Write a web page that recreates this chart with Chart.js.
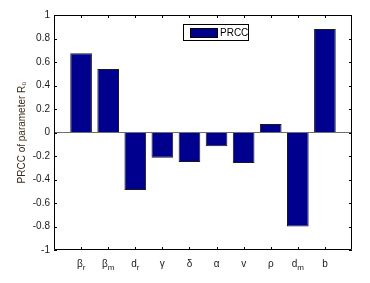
<!DOCTYPE html>
<html>
<head>
<meta charset="utf-8">
<script src="https://cdn.jsdelivr.net/npm/chart.js@4/dist/chart.umd.min.js"></script>
<style>
  html, body { margin: 0; padding: 0; background: #fff; }
  #wrap { width: 370px; height: 283px; }
</style>
</head>
<body>
<div id="wrap"><canvas id="prcc"></canvas></div>
<script>
// parameter names, split into base symbol + subscript
const paramBase = ['β', 'β', 'd', 'γ', 'δ', 'α', 'v', 'ρ', 'd', 'b'];
const paramSub  = ['r', 'm', 'r', '',  '',  '',  '',  '',  'm', ''];
const prccValues = [0.674, 0.54, -0.49, -0.214, -0.251, -0.118, -0.26, 0.072, -0.80, 0.88];
const yTicks = [-1, -0.8, -0.6, -0.4, -0.2, 0, 0.2, 0.4, 0.6, 0.8, 1];

const FONT = 'Liberation Sans, Arial, sans-serif';

// matlab style frame: box on four sides, ticks pointing in, custom legend
const matlabFrame = {
    id: 'matlabFrame',
    afterDatasetsDraw(chart) {
        const ctx = chart.ctx;
        const area = chart.chartArea;
        const xs = chart.scales.x;
        const ys = chart.scales.y;
        const tl = 3;
        ctx.save();
        ctx.strokeStyle = '#000';
        ctx.lineWidth = 1;
        ctx.beginPath();
        ctx.rect(area.left + 0.5, area.top + 0.5, area.right - area.left - 1, area.bottom - area.top - 1);
        ctx.stroke();

        ctx.beginPath();
        yTicks.forEach(v => {
            const y = Math.round(ys.getPixelForValue(v)) + 0.5;
            ctx.moveTo(area.left, y); ctx.lineTo(area.left + tl, y);
            ctx.moveTo(area.right, y); ctx.lineTo(area.right - tl, y);
        });
        paramBase.forEach((_, i) => {
            const x = Math.round(xs.getPixelForValue(i + 1)) + 0.5;
            ctx.moveTo(x, area.bottom); ctx.lineTo(x, area.bottom - tl);
            ctx.moveTo(x, area.top); ctx.lineTo(x, area.top + tl);
        });
        ctx.stroke();

        // x tick labels with subscripts
        ctx.fillStyle = '#1a1a1a';
        ctx.textBaseline = 'alphabetic';
        paramBase.forEach((b, i) => {
            const x = xs.getPixelForValue(i + 1);
            ctx.font = '10px ' + FONT;
            const wb = ctx.measureText(b).width;
            ctx.font = '8px ' + FONT;
            const ws = paramSub[i] ? ctx.measureText(paramSub[i]).width : 0;
            const x0 = x - (wb + ws) / 2;
            ctx.font = '10px ' + FONT;
            ctx.textAlign = 'left';
            ctx.fillText(b, x0, area.bottom + 17);
            if (paramSub[i]) {
                ctx.font = '8px ' + FONT;
                ctx.fillText(paramSub[i], x0 + wb, area.bottom + 20);
            }
        });

        // legend box
        const label = chart.data.datasets[0].label;
        const lx = 183, ly = 24, lw = 65, lh = 16;
        ctx.fillStyle = '#fff';
        ctx.fillRect(lx, ly, lw, lh);
        ctx.strokeStyle = '#000';
        ctx.strokeRect(lx + 0.5, ly + 0.5, lw, lh);
        ctx.fillStyle = chart.data.datasets[0].backgroundColor;
        ctx.fillRect(190, 28, 27, 9);
        ctx.strokeRect(190.5, 28.5, 27, 9);
        ctx.fillStyle = '#000';
        ctx.font = '10px ' + FONT;
        ctx.textAlign = 'left';
        ctx.textBaseline = 'middle';
        ctx.fillText(label, 220, 33);
        ctx.restore();
    }
};

new Chart(document.getElementById('prcc'), {
    type: 'bar',
    data: {
        datasets: [{
            label: 'PRCC',
            data: prccValues.map((v, i) => ({ x: i + 1, y: v })),
            backgroundColor: '#00008f',
            borderColor: '#1a1a1a',
            borderWidth: 1,
            barPercentage: 0.8,
            categoryPercentage: 1
        }]
    },
    options: {
        responsive: true,
        maintainAspectRatio: false,
        animation: false,
        events: [],
        layout: { padding: { left: 0, right: 18, top: 15, bottom: 0 } },
        plugins: {
            legend: { display: false },
            tooltip: { enabled: false }
        },
        scales: {
            x: {
                type: 'linear',
                min: 0,
                max: 11,
                offset: false,
                grid: { display: false },
                border: { display: false },
                ticks: { display: false },
                afterFit: s => { s.height = 33; }
            },
            y: {
                min: -1,
                max: 1,
                afterBuildTicks: s => { s.ticks = yTicks.map(v => ({ value: v })); },
                grid: {
                    drawOnChartArea: true,
                    drawTicks: false,
                    color: c => (c.tick && c.tick.value === 0 ? '#6e6e6e' : 'transparent')
                },
                border: { display: false },
                ticks: {
                    color: '#1a1a1a',
                    font: { family: FONT, size: 10 },
                    padding: 4,
                    callback: v => String(Math.round(v * 10) / 10)
                },
                title: {
                    display: true,
                    text: 'PRCC of parameter R₀',
                    color: '#3a2a1a',
                    font: { family: FONT, size: 10 },
                    padding: { top: 16, bottom: 0 }
                },
                afterFit: s => { s.width = 54; }
            }
        }
    },
    plugins: [matlabFrame]
});
</script>
</body>
</html>
